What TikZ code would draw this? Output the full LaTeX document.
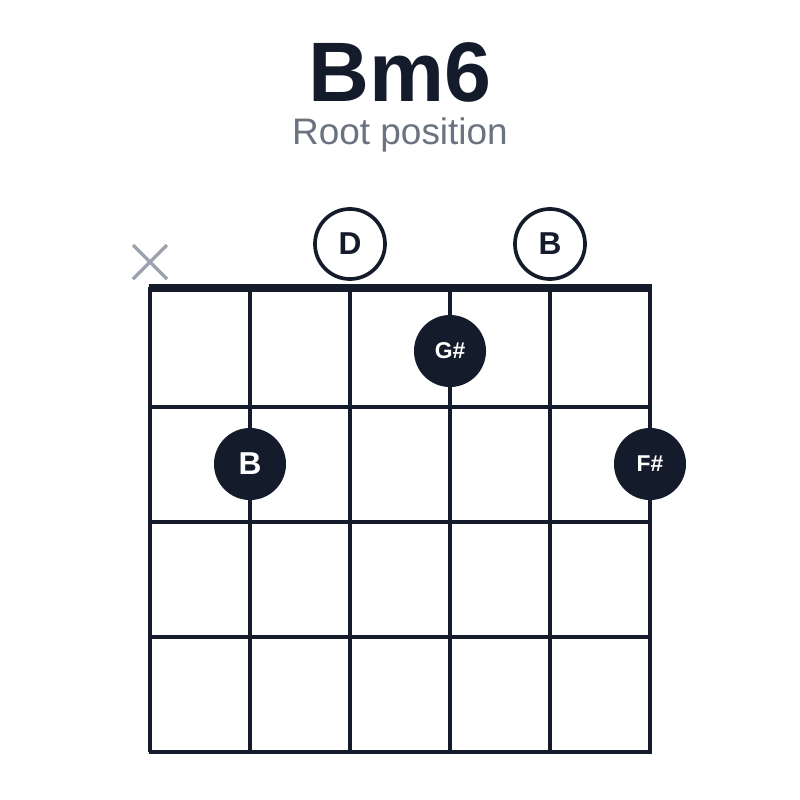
\documentclass[tikz,border=0pt]{standalone}
\usepackage{fontspec}
\setmainfont{Liberation Sans}
\usepackage{tikz}
\usetikzlibrary{positioning}
\definecolor{ink}{HTML}{141B2B}
\definecolor{subgray}{HTML}{6B7280}
\definecolor{xgray}{HTML}{9CA3AF}
\begin{document}
\begin{tikzpicture}[x=0.01cm,y=-0.01cm,
        fretline/.style={ink, line width=1pt},
        played/.style={circle, fill=ink, text=white, minimum size=0.72cm, inner sep=0pt, font=\bfseries},
        open/.style={circle, draw=ink, fill=white, line width=1.05pt, text=ink, minimum size=0.7cm, inner sep=0pt, font=\fontsize{9}{10}\selectfont\bfseries}
    ]
    \useasboundingbox (0,0) rectangle (800,800);

    % Titel
    \node[ink, font=\fontsize{24}{28}\selectfont\bfseries] (title) at (400,72) {Bm6};
    \node[subgray, font=\fontsize{10.5}{12}\selectfont] (sub) at (400,135) {Root position};

    % Saiten und Bünde
    \foreach \s in {150,250,...,650}
        \draw[fretline] (\s,287) -- (\s,752);
    \foreach \f in {407,522,637,752}
        \draw[fretline] (148.5,\f) -- (651.5,\f);
    \draw[ink, line width=2.4pt] (148.5,288) -- (651.5,288);

    % Gedämpfte Saite
    \draw[xgray, line width=1pt] (133,245) -- (167,279) (133,279) -- (167,245);

    % Leere Saiten
    \node[open] (o3) at (350,244) {D};
    \node[open] (o5) at (550,244) {B};

    % Gegriffene Töne
    \node[played, font=\fontsize{6.5}{8}\selectfont\bfseries] (g4) at (450,351) {G\#};
    \node[played, font=\fontsize{9}{10}\selectfont\bfseries] (b2) at (250,464) {B};
    \node[played, font=\fontsize{6.5}{8}\selectfont\bfseries] (f6) at (650,464) {F\#};
\end{tikzpicture}
\end{document}
